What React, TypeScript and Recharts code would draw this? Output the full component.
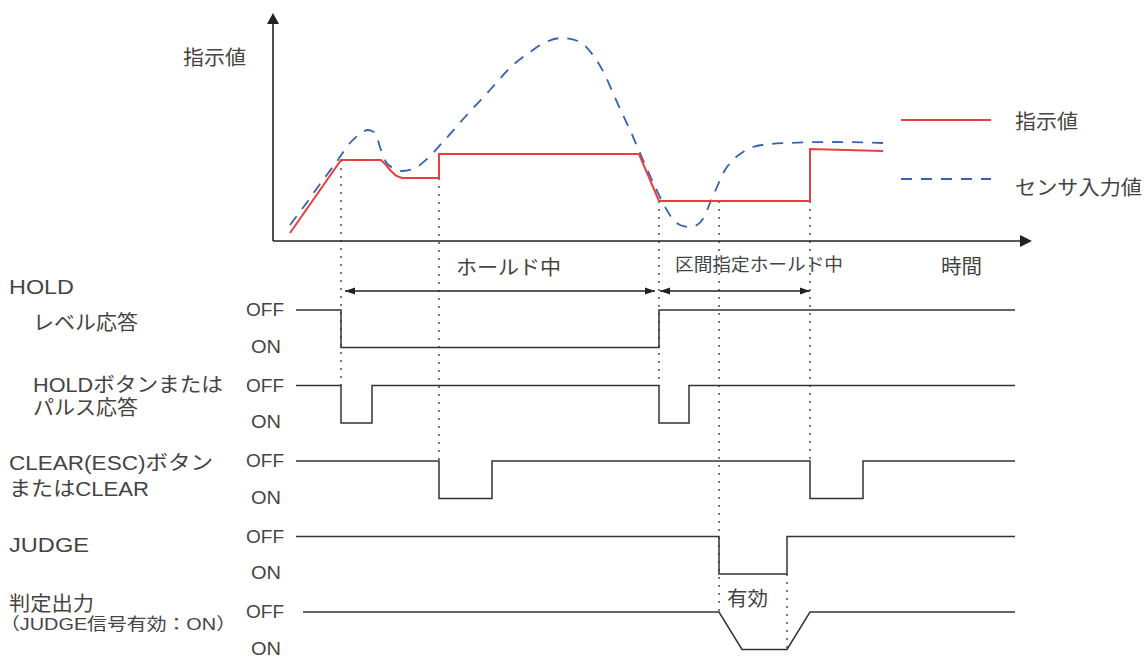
import React from "react";
import { ComposedChart, Line, XAxis, YAxis, ReferenceLine, ReferenceDot, Legend } from "recharts";

const FONT = '"Liberation Sans", "Noto Sans CJK JP", sans-serif';
const INK = "#444444";
const WIRE = "#333333";
const RED = "#ea3d3d";
const BLUE = "#3562b4";
const BLUE_DASH = "11 9";

// t = time, v = value (indicator / sensor)
const indicator: [number, number][] = [
  [3.4, 4], [13.6, 40.5], [21.6, 40.5], [22.6, 38], [23.6, 35], [24.6, 32.7], [25.8, 31.5],
  [33.2, 31.5], [33.2, 43.5], [73.2, 43.5], [77.2, 20], [107.4, 20], [107.4, 46], [122, 45],
];

const sensor: [number, number][] = [
  [3.4, 8], [6.4, 18], [9.4, 28.5], [12.4, 38.5], [15.4, 49], [17.4, 53.5], [19, 55.5],
  [20.4, 54], [21.6, 45.5], [22.6, 39.5], [24, 36.5], [25.8, 35], [28.4, 36.5], [30.8, 41],
  [33.8, 49], [38.4, 62], [43.4, 75.5], [48, 88], [51.4, 94.5], [54.6, 99.5], [57.8, 101.5],
  [61, 100], [64, 93], [66.4, 83], [68, 74], [69.8, 64], [71.4, 55.5], [74, 40.5], [75.8, 30.5],
  [78, 19], [79.8, 11.5], [81.4, 8], [83.4, 7], [84.8, 8], [86.2, 12], [87.4, 19], [88.8, 27],
  [90.4, 35.5], [92, 40.5], [94, 44.5], [96, 47], [99.4, 48.5], [102.8, 49], [111.4, 49.5], [122, 49],
];

// digital signals, 0 = OFF, 1 = ON
const holdLevel: [number, number][] = [[4.6, 0], [13.6, 0], [13.6, 1], [77.2, 1], [77.2, 0], [148.4, 0]];
const holdPulse: [number, number][] = [
  [4.6, 0], [13.6, 0], [13.6, 1], [19.8, 1], [19.8, 0], [77.2, 0], [77.2, 1], [83.2, 1], [83.2, 0], [148.4, 0],
];
const clearSig: [number, number][] = [
  [4.6, 0], [33.2, 0], [33.2, 1], [43.8, 1], [43.8, 0], [107.4, 0], [107.4, 1], [118, 1], [118, 0], [148.4, 0],
];
const judgeSig: [number, number][] = [[4.6, 0], [89.2, 0], [89.2, 1], [102.8, 1], [102.8, 0], [148.4, 0]];
const judgeOut: [number, number][] = [[6, 0], [89.2, 0], [93.8, 1], [102.8, 1], [107.4, 0], [148.4, 0]];

const signals = [holdLevel, holdPulse, clearSig, judgeSig, judgeOut];

const signalLabels: string[][] = [
  ["HOLD", "レベル応答"],
  ["HOLDボタンまたは", "パルス応答"],
  ["CLEAR(ESC)ボタン", "またはCLEAR"],
  ["JUDGE"],
  ["判定出力", "（JUDGE信号有効：ON）"],
];

const legendNames = ["指示値", "センサ入力値"];

// lane layout, in value units
const LANE_OFF0 = -34.5;
const LANE_STEP = 37.75;
const ON_DROP = 18.75;
const lv = (lane: number, level: number) => LANE_OFF0 - lane * LANE_STEP - level * ON_DROP;

const toPts = (pts: [number, number][]) => pts.map(([t, v]) => ({ t, v }));
const toLane = (pts: [number, number][], lane: number) => pts.map(([t, s]) => ({ t, v: lv(lane, s) }));

const guides = [
  { t: 13.6, top: 40.5, bottom: lv(1, 0) },
  { t: 33.2, top: 31.5, bottom: lv(2, 0) },
  { t: 77.2, top: 20, bottom: lv(1, 0) },
  { t: 89.2, top: 20, bottom: lv(4, 0) },
  { t: 102.8, top: lv(3, 1), bottom: lv(4, 1) },
  { t: 107.4, top: 20, bottom: lv(2, 0) },
];

// left labels: [t, v, width, size]
const labelPos: [number, number, number, number][][] = [
  [[-52.8, -23, 65, 20], [-48, -41, 105, 20]],
  [[-48, -72, 190, 20], [-48, -83.5, 105, 20]],
  [[-52.8, -111, 204, 20], [-52.8, -124, 140, 20]],
  [[-52.8, -152, 80, 20]],
  [[-52.8, -181.5, 85, 20], [-54.6, -191.5, 236, 17]],
];

const textShape = (text: string, len: number, size = 20) => (p: any) => (
  <text x={p.cx} y={p.cy} dominantBaseline="central" fontSize={size} fill={INK}
    textLength={len} lengthAdjust="spacingAndGlyphs" fontFamily={FONT}>{text}</text>
);

const arrowShape = (dir: "up" | "right" | "left", len: number, half: number) => (p: any) => {
  const { cx, cy } = p;
  let pts = "";
  if (dir === "up") pts = `${cx},${cy} ${cx - half},${cy + len} ${cx + half},${cy + len}`;
  if (dir === "right") pts = `${cx},${cy} ${cx - len},${cy - half} ${cx - len},${cy + half}`;
  if (dir === "left") pts = `${cx},${cy} ${cx + len},${cy - half} ${cx + len},${cy + half}`;
  return <polygon points={pts} fill="#222" />;
};

const LegendBox = ({ payload }: any) => {
  const rows = [
    { ly: 20, ty: 22, len: 63 },
    { ly: 79, ty: 88, len: 127 },
  ];
  return (
    <svg width={243} height={110}>
      {legendNames.map((name, i) => {
        const p = (payload || []).find((e: any) => e.value === name);
        if (!p) return null;
        const r = rows[i];
        return (
          <g key={name}>
            <line x1={0} x2={90} y1={r.ly} y2={r.ly} stroke={p.color} strokeWidth={2}
              strokeDasharray={name === "センサ入力値" ? BLUE_DASH : undefined} />
            <text x={114} y={r.ty} dominantBaseline="central" fontSize={20} fill={INK} fontFamily={FONT}
              textLength={r.len} lengthAdjust="spacingAndGlyphs">{name}</text>
          </g>
        );
      })}
    </svg>
  );
};

export default function App() {
  return (
    <div style={{ position: "absolute", left: 0, top: 0, fontFamily: FONT, background: "#fff" }}>
      <ComposedChart width={1144} height={658} margin={{ top: 0, right: 0, bottom: 0, left: 0 }}>
        <XAxis type="number" dataKey="t" domain={[-54.6, 174.2]} allowDataOverflow hide />
        <YAxis type="number" dataKey="v" domain={[-208.5, 120.5]} allowDataOverflow hide />
        <Legend layout="vertical" align="center" verticalAlign="middle" content={<LegendBox />}
          wrapperStyle={{ left: 901, top: 100, width: 243 }} />

        {guides.map((g, i) => (
          <ReferenceLine key={"g" + i} segment={[{ x: g.t, y: g.top }, { x: g.t, y: g.bottom }]}
            stroke="#333" strokeWidth={1.3} strokeDasharray="2 6" />
        ))}

        {/* axes */}
        <ReferenceLine segment={[{ x: 0, y: 0 }, { x: 0, y: 110 }]} stroke="#222" strokeWidth={1.6} />
        <ReferenceLine segment={[{ x: 0, y: 0 }, { x: 149.6, y: 0 }]} stroke="#222" strokeWidth={1.6} />
        <ReferenceDot x={0} y={114} shape={arrowShape("up", 11, 6)} />
        <ReferenceDot x={151.8} y={0} shape={arrowShape("right", 12, 6)} />

        {/* hold spans */}
        <ReferenceLine segment={[{ x: 14.4, y: -25 }, { x: 76.4, y: -25 }]} stroke="#222" strokeWidth={1.3} />
        <ReferenceLine segment={[{ x: 77.4, y: -25 }, { x: 107.4, y: -25 }]} stroke="#222" strokeWidth={1.3} />
        <ReferenceDot x={14.4} y={-25} shape={arrowShape("left", 10, 3.5)} />
        <ReferenceDot x={76.4} y={-25} shape={arrowShape("right", 10, 3.5)} />
        <ReferenceDot x={77.4} y={-25} shape={arrowShape("left", 10, 3.5)} />
        <ReferenceDot x={107.4} y={-25} shape={arrowShape("right", 10, 3.5)} />

        <Line data={toPts(sensor)} dataKey="v" name="センサ入力値" type="monotone" stroke={BLUE}
          strokeWidth={1.8} strokeDasharray={BLUE_DASH} dot={false} activeDot={false} isAnimationActive={false} />
        <Line data={toPts(indicator)} dataKey="v" name="指示値" type="linear" stroke={RED}
          strokeWidth={2} dot={false} activeDot={false} isAnimationActive={false} />

        {signals.map((s, k) => (
          <Line key={"s" + k} data={toLane(s, k)} dataKey="v" type="linear" stroke={WIRE}
            strokeWidth={1.5} dot={false} activeDot={false} legendType="none" isAnimationActive={false} />
        ))}

        {/* texts */}
        <ReferenceDot x={-18} y={91.5} shape={textShape("指示値", 63)} />
        <ReferenceDot x={36.6} y={-13.5} shape={textShape("ホールド中", 105)} />
        <ReferenceDot x={80.4} y={-12} shape={textShape("区間指定ホールド中", 168, 18)} />
        <ReferenceDot x={133.6} y={-13} shape={textShape("時間", 41)} />
        <ReferenceDot x={90.8} y={-179} shape={textShape("有効", 41)} />

        {signals.map((_, k) => (
          <React.Fragment key={"lvl" + k}>
            <ReferenceDot x={-5.4} y={lv(k, 0)} shape={textShape("OFF", 38, 18)} />
            <ReferenceDot x={-4.4} y={lv(k, 1) + 0.5} shape={textShape("ON", 30, 18)} />
          </React.Fragment>
        ))}

        {signalLabels.map((lines, k) =>
          lines.map((txt, j) => {
            const [t, v, len, size] = labelPos[k][j];
            return <ReferenceDot key={"lab" + k + j} x={t} y={v} shape={textShape(txt, len, size)} />;
          })
        )}
      </ComposedChart>
    </div>
  );
}
